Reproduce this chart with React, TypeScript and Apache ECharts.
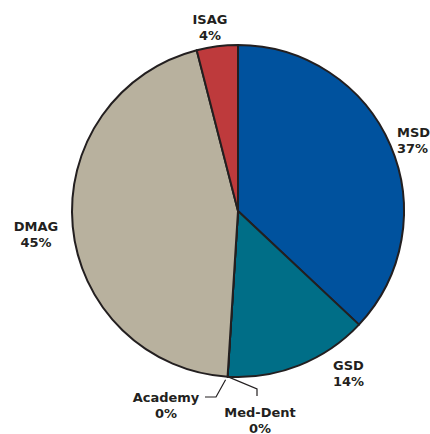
import React, { useEffect, useRef } from "react";
import * as echarts from "echarts";

const categories = ["MSD", "GSD", "Med-Dent", "Academy", "DMAG", "ISAG"];
const values = [37, 14, 0, 0, 45, 4];
const colors = ["#00529E", "#006E87", "#8a8a8a", "#8a8a8a", "#B8B19E", "#BE3A3C"];

// label anchor positions (layout only)
const labelPos: Record<string, { x: number; y: number; align: string; line?: number[][] }> = {
  MSD: { x: 397, y: 140, align: "left" },
  GSD: { x: 333, y: 373, align: "left" },
  "Med-Dent": { x: 260, y: 420, align: "center", line: [[257, 389], [257, 396]] },
  Academy: { x: 166, y: 405, align: "center", line: [[216, 397], [205, 397]] },
  DMAG: { x: 36, y: 234, align: "center" },
  ISAG: { x: 210, y: 27, align: "center" },
};

export default function App() {
  const ref = useRef<HTMLDivElement>(null);
  useEffect(() => {
    if (!ref.current) return;
    const chart = echarts.init(ref.current, null, { renderer: "svg" });
    chart.setOption({
      animation: false,
      backgroundColor: "#ffffff",
      series: [
        {
          type: "pie",
          center: [238, 211],
          radius: 166,
          startAngle: 90,
          clockwise: true,
          avoidLabelOverlap: false,
          itemStyle: { borderColor: "#231F20", borderWidth: 2 },
          label: {
            show: true,
            formatter: "{b}\n{c}%",
            fontFamily: "DejaVu Sans",
            fontWeight: "bold",
            fontSize: 13,
            lineHeight: 16,
            color: "#231F20",
          },
          labelLine: { show: false },
          data: categories.map((name, i) => ({
            name,
            value: values[i],
            itemStyle: { color: colors[i] },
            labelLine: labelPos[name].line
              ? { show: true, lineStyle: { color: "#231F20", width: 1.2 } }
              : { show: false },
          })),
          labelLayout: (params: any) => {
            const name = categories[params.dataIndex];
            const p = labelPos[name];
            const res: any = {
              x: p.x,
              y: p.y,
              align: p.align,
              verticalAlign: "middle",
            };
            if (p.line && params.labelLinePoints) {
              const start = params.labelLinePoints[0];
              const s =
                name === "Academy" ? [start[0] - 2, start[1] + 3] : [start[0], start[1]];
              res.labelLinePoints = [s, p.line[0], p.line[1]];
            }
            return res;
          },
        },
      ],
    });
    return () => chart.dispose();
  }, []);
  return (
    <div
      ref={ref}
      style={{ position: "fixed", left: 0, top: 0, width: 430, height: 434, background: "#fff" }}
    />
  );
}
